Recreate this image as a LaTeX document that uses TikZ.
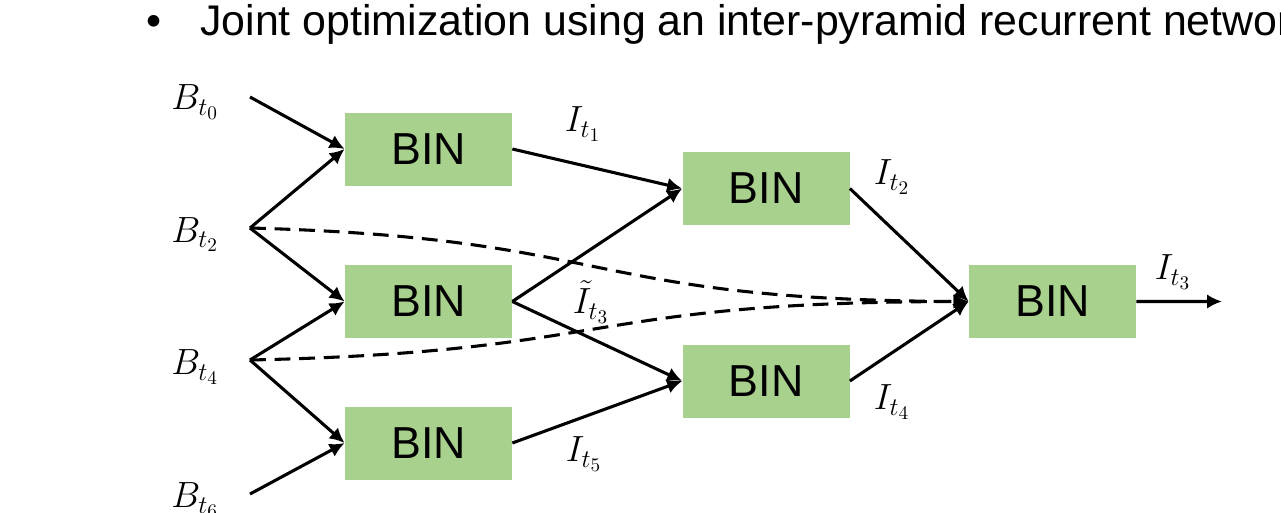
\documentclass[tikz,border=0pt]{standalone}
\usepackage{fontspec}
\setmainfont{Liberation Sans}
\usepackage{amsmath}
\usetikzlibrary{positioning,arrows.meta}
\definecolor{bingreen}{HTML}{A9D18E}
\tikzset{
>={Latex[length=3mm,width=2.9mm]}, % filled arrow heads
binbox/.style={rectangle, fill=bingreen, minimum width=3.34cm, minimum height=1.46cm, font=\fontsize{25.5}{30}\selectfont},
mlabel/.style={inner sep=0pt, font=\fontsize{21.5}{25}\selectfont},
flow/.style={->, line width=1.75pt},
skip/.style={->, line width=1.75pt, dash pattern=on 9pt off 5pt},
}

\begin{document}
\begin{tikzpicture}[on grid]
   \useasboundingbox (0,0) rectangle (25.62,-10.24);
   \clip (0,0) rectangle (25.62,-10.24);
   % heading
   \node[anchor=base west, inner sep=0pt, font=\fontsize{24.4}{28}\selectfont] (dot) at (2.92,-0.70) {•};
   \node[anchor=base west, inner sep=0pt, font=\fontsize{24.4}{28}\selectfont] (title) at (4.0,-0.70) {Joint optimization using an inter-pyramid recurrent network};
   % BIN blocks
   \node[binbox] (bin1) at (8.57,-2.98) {BIN};
   \node[binbox] (bin2) [below=3.05cm of bin1] {BIN};
   \node[binbox] (bin3) [below=2.83cm of bin2] {BIN};
   \node[binbox] (bin4) [below right=0.79cm and 6.75cm of bin1] {BIN};
   \node[binbox] (bin5) [below right=1.59cm and 6.75cm of bin2] {BIN};
   \node[binbox] (bin6) [right=12.48cm of bin2] {BIN};
   % inputs
   \coordinate (v0) at (5.0,-1.94);
   \coordinate (v2) at (5.0,-4.56);
   \coordinate (v4) at (5.0,-7.20);
   \coordinate (v6) at (5.0,-9.88);
   \coordinate (out) at (24.44,-6.03);
   \node[mlabel] (b0) at (3.90,-2.04) {$B_{t_0}$};
   \node[mlabel] (b2) at (3.90,-4.69) {$B_{t_2}$};
   \node[mlabel] (b4) at (3.90,-7.34) {$B_{t_4}$};
   \node[mlabel] (b6) at (3.90,-10.00) {$B_{t_6}$};
   % intermediate outputs
   \node[mlabel] (i1) at (11.66,-2.48) {$I_{t_1}$};
   \node[mlabel] (i2) at (17.84,-3.54) {$I_{t_2}$};
   \node[mlabel] (i3t) at (11.82,-6.04) {$\tilde{I}_{t_3}$};
   \node[mlabel] (i4) at (17.84,-8.04) {$I_{t_4}$};
   \node[mlabel] (i5) at (11.68,-9.08) {$I_{t_5}$};
   \node[mlabel] (i3) at (23.46,-5.44) {$I_{t_3}$};
   \path[flow]
    (v0) edge (bin1.west)
    (v2) edge (bin1.west)
    (v2) edge (bin2.west)
    (v4) edge (bin2.west)
    (v4) edge (bin3.west)
    (v6) edge (bin3.west)
    (bin1.east) edge (bin4.west)
    (bin2.east) edge (bin4.west)
    (bin2.east) edge (bin5.west)
    (bin3.east) edge (bin5.west)
    (bin4.east) edge (bin6.west)
    (bin5.east) edge (bin6.west)
    (bin6.east) edge (out);
   \draw[skip] (v2) .. controls (12.4,-4.76) and (11.6,-6.0) .. (bin6.west);
   \draw[skip] (v4) .. controls (12.4,-7.04) and (11.6,-6.04) .. (bin6.west);
\end{tikzpicture}
\end{document}
